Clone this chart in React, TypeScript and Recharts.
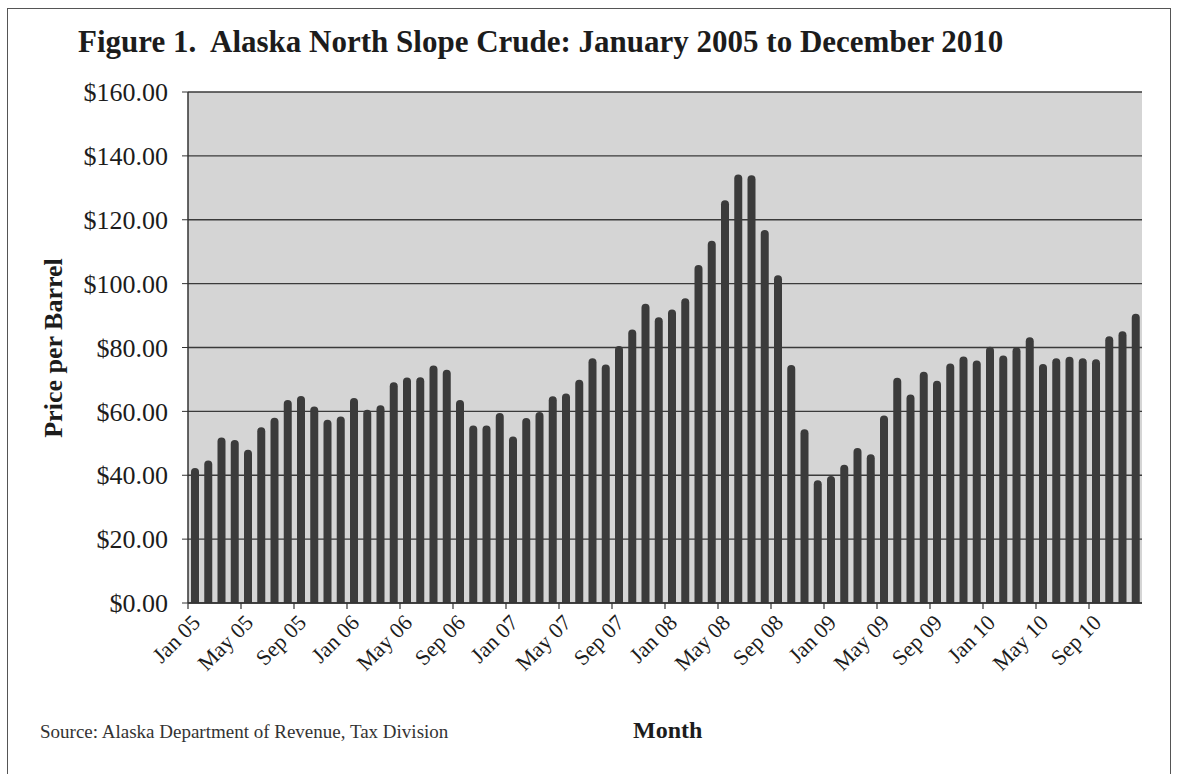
import { BarChart, Bar, XAxis, YAxis, CartesianGrid } from "recharts"

const monthNames = ["Jan", "Feb", "Mar", "Apr", "May", "Jun", "Jul", "Aug", "Sep", "Oct", "Nov", "Dec"]
const years = ["05", "06", "07", "08", "09", "10"]

// ANS crude, $ per barrel, monthly Jan 2005 .. Dec 2010
const prices = [
    42.3, 44.6, 51.8, 51.0, 48.0, 55.0, 58.0, 63.6, 64.8, 61.5, 57.4, 58.4,
    64.2, 60.5, 61.9, 69.1, 70.6, 70.7, 74.4, 73.0, 63.6, 55.6, 55.6, 59.5,
    52.1, 57.9, 59.8, 64.7, 65.6, 69.9, 76.6, 74.7, 80.5, 85.6, 93.7, 89.5,
    91.9, 95.4, 105.8, 113.4, 126.1, 134.2, 133.9, 116.8, 102.6, 74.5, 54.4, 38.4,
    39.8, 43.3, 48.5, 46.6, 58.7, 70.5, 65.3, 72.4, 69.6, 75.0, 77.2, 75.9,
    80.2, 77.5, 80.1, 83.2, 74.8, 76.6, 77.1, 76.6, 76.3, 83.5, 85.1, 90.6,
]

const yTicks = [0, 20, 40, 60, 80, 100, 120, 140, 160]

const months = years.flatMap((yr) => monthNames.map((m) => `${m} ${yr}`))
const data = months.map((month, i) => ({ month, price: prices[i] }))

const serif = "'Liberation Serif', 'Times New Roman', serif"
const ink = "#1c1c1c"

// plot box in page pixels
const PLOT_LEFT = 188
const PLOT_RIGHT = 1142
const SLOT = (PLOT_RIGHT - PLOT_LEFT) / prices.length

function MonthTick(props: any) {
    const { x, y, payload } = props
    return (
        <g>
            <line x1={x - SLOT / 2} x2={x - SLOT / 2} y1={y} y2={y + 6} stroke="#333" strokeWidth={1.2} />
            <text
                transform={`translate(${x + 7},${y + 21}) rotate(-45)`}
                textAnchor="end"
                fontFamily={serif}
                fontSize={22}
                fill={ink}
            >
                {payload.value}
            </text>
        </g>
    )
}

export default function App() {
    return (
        <div style={{ position: "absolute", left: 0, top: 0, width: 1178, height: 774, background: "#fff", overflow: "hidden", fontFamily: serif, color: ink }}>
            {/* frame */}
            <div style={{ position: "absolute", left: 7, top: 8, width: 1162, height: 900, border: "1.5px solid #555" }} />

            <div style={{ position: "absolute", left: 78, top: 24, fontSize: 31, fontWeight: "bold", whiteSpace: "nowrap" }}>
                Figure 1.&nbsp; Alaska North Slope Crude: January 2005 to December 2010
            </div>

            <BarChart
                width={1178}
                height={774}
                data={data}
                margin={{ top: 92, right: 1178 - PLOT_RIGHT, bottom: 91, left: PLOT_LEFT - 110 }}
                barSize={8}
                style={{ position: "absolute", left: 0, top: 0 }}
            >
                <CartesianGrid vertical={false} fill="#d5d5d5" stroke="#3a3a3a" strokeWidth={1.3} fillOpacity={1} />
                <XAxis
                    dataKey="month"
                    interval={3}
                    height={80}
                    tickLine={false}
                    tickSize={0}
                    tickMargin={0}
                    axisLine={{ stroke: "#333", strokeWidth: 1.5 }}
                    tick={<MonthTick />}
                />
                <YAxis
                    width={110}
                    domain={[0, 160]}
                    ticks={yTicks}
                    interval={0}
                    tickFormatter={(v: number) => `$${v.toFixed(2)}`}
                    tickSize={6}
                    tickMargin={14}
                    tickLine={{ stroke: "#333" }}
                    axisLine={{ stroke: "#333", strokeWidth: 1.5 }}
                    tick={{ fontFamily: serif, fontSize: 26, fill: ink }}
                />
                <Bar dataKey="price" fill="#3b3b3b" radius={[4, 4, 0, 0]} isAnimationActive={false} />
            </BarChart>

            <div
                style={{
                    position: "absolute", left: 54, top: 348, transform: "translate(-50%, -50%) rotate(-90deg)",
                    fontSize: 26, fontWeight: "bold", whiteSpace: "nowrap",
                }}
            >
                Price per Barrel
            </div>

            <div style={{ position: "absolute", left: 40, top: 721, fontSize: 19, color: "#333", whiteSpace: "nowrap" }}>
                Source: Alaska Department of Revenue, Tax Division
            </div>
            <div style={{ position: "absolute", left: 633, top: 717, fontSize: 24, fontWeight: "bold" }}>
                Month
            </div>
        </div>
    )
}
